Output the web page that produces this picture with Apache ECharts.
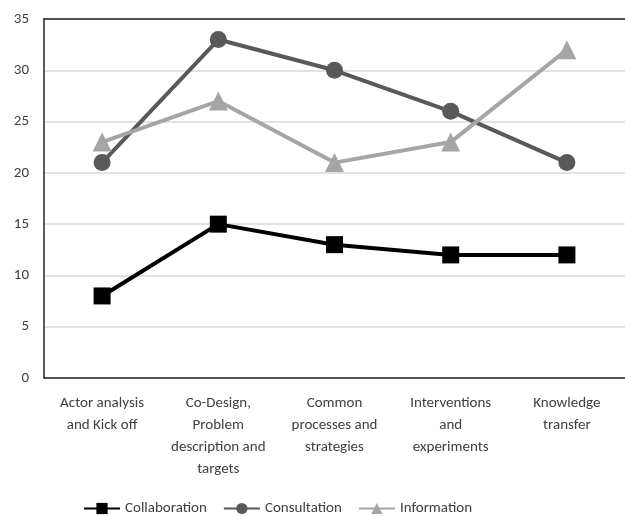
<!DOCTYPE html>
<html>
<head>
<meta charset="utf-8">
<script src="https://cdn.jsdelivr.net/npm/echarts@6/dist/echarts.min.js"></script>
<style>html,body{margin:0;padding:0;background:#fff}#c{width:625px;height:516px}</style>
</head>
<body>
<div id="c"></div>
<script>
var categories = [
  'Actor analysis\nand Kick off',
  'Co-Design,\nProblem\ndescription and\ntargets',
  'Common\nprocesses and\nstrategies',
  'Interventions\nand\nexperiments',
  'Knowledge\ntransfer'
];
var collaboration = [8, 15, 13, 12, 12];
var consultation = [21, 33, 30, 26, 21];
var information = [23, 27, 21, 23, 32];
var yTicks = {min: 0, max: 35, interval: 5};

var FONT = "Carlito, 'Liberation Sans', sans-serif";
var chart = echarts.init(document.getElementById('c'), null, {renderer: 'canvas'});
chart.setOption({
  animation: false,
  backgroundColor: '#fff',
  textStyle: {fontFamily: FONT},
  grid: {left: 44, top: 19, width: 585, bottom: 138, containLabel: false},
  legend: {
    left: 78,
    top: 496,
    itemWidth: 36,
    itemHeight: 14,
    itemGap: 16,
    textStyle: {fontSize: 15, color: '#404040', fontFamily: FONT},
    data: ['Collaboration', 'Consultation', 'Information']
  },
  xAxis: [{
    type: 'category',
    data: categories,
    boundaryGap: true,
    axisLine: {show: true, lineStyle: {color: '#262626', width: 1.5}},
    axisTick: {show: false},
    axisLabel: {
      interval: 0, margin: 14, fontSize: 15, lineHeight: 22,
      color: '#404040', fontFamily: FONT, align: 'center'
    }
  }, {
    type: 'category',
    data: categories,
    position: 'top',
    axisLine: {show: true, lineStyle: {color: '#262626', width: 1.5}},
    axisTick: {show: false},
    axisLabel: {show: false}
  }],
  yAxis: {
    type: 'value',
    min: yTicks.min, max: yTicks.max, interval: yTicks.interval,
    axisLine: {show: true, lineStyle: {color: '#262626', width: 1.5}},
    axisTick: {show: false},
    axisLabel: {margin: 15, fontSize: 15, color: '#404040', fontFamily: FONT},
    splitLine: {show: true, lineStyle: {color: '#d9d9d9', width: 1.5}}
  },
  series: [{
    name: 'Collaboration', type: 'line', data: collaboration,
    symbol: 'rect', symbolSize: 17,
    lineStyle: {color: '#000', width: 4},
    itemStyle: {color: '#000'}
  }, {
    name: 'Consultation', type: 'line', data: consultation,
    symbol: 'circle', symbolSize: 17,
    lineStyle: {color: '#595959', width: 4},
    itemStyle: {color: '#595959'}
  }, {
    name: 'Information', type: 'line', data: information,
    symbol: 'triangle', symbolSize: 19,
    lineStyle: {color: '#a5a5a5', width: 4},
    itemStyle: {color: '#a5a5a5'}
  }]
});
</script>
</body>
</html>
